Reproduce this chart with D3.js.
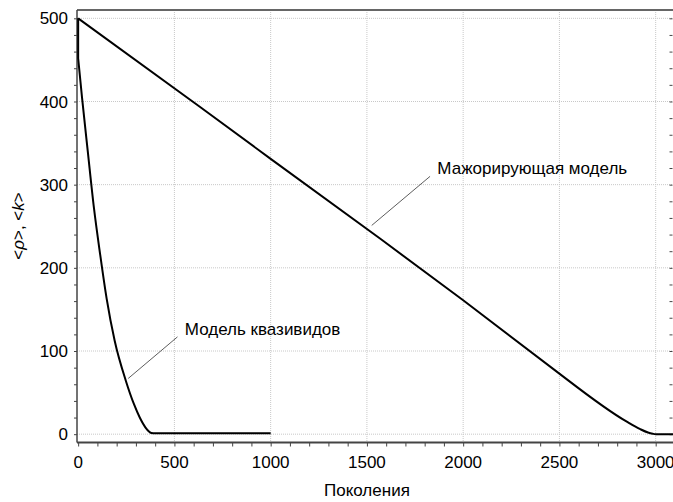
<!DOCTYPE html>
<html>
<head>
<meta charset="utf-8">
<script src="https://cdn.jsdelivr.net/npm/d3@7"></script>
<style>
  body { margin: 0; background: #fff; }
  svg { display: block; }
  text { font-family: "Liberation Sans", Arial, sans-serif; fill: #000; }
</style>
</head>
<body>
<svg id="chart" width="673" height="502"></svg>
<script>
// ---- data ----
const xTicks = [0, 500, 1000, 1500, 2000, 2500, 3000];
const yTicks = [0, 100, 200, 300, 400, 500];
const xLabel = "Поколения";
const majorGen = [0, 630, 1000, 1575, 2000, 2544, 2850, 2920, 2960, 2985, 3000, 3090];
const majorVal = [500, 394, 331, 234, 161, 65, 15, 6, 2, 0.5, 0, 0];
const quasiGen = [0, 0, 20, 50, 82, 115, 148, 190, 248, 290, 320, 350, 380, 400, 1000];
const quasiVal = [500, 452, 405, 340, 272, 215, 163, 112, 64, 36, 20, 8, 1.5, 1, 1];
const labelMajor = "Мажорирующая модель";
const labelQuasi = "Модель квазивидов";

// ---- layout ----
const svg = d3.select("#chart");
const L = 77, R = 673, T = 10, B = 442.5;
const FS = 17;
const x = d3.scaleLinear().domain([-6, 3090]).range([L, R]);
const y = d3.scaleLinear().domain([-10, 510]).range([B, T]);

// gridlines
const grid = svg.append("g");
grid.selectAll("line.v").data(xTicks.filter(d => d > 0)).join("line")
  .attr("x1", d => x(d)).attr("x2", d => x(d)).attr("y1", T).attr("y2", B)
  .attr("stroke", "#c8c8c8").attr("stroke-width", 1).attr("stroke-dasharray", "1,1");
grid.selectAll("line.h").data(yTicks).join("line")
  .attr("x1", L).attr("x2", R).attr("y1", d => y(d)).attr("y2", d => y(d))
  .attr("stroke", "#c8c8c8").attr("stroke-width", 1).attr("stroke-dasharray", "1,1");

// axes
const axColor = "#444";
const xAxis = d3.axisBottom(x).tickValues(d3.range(0, 3001, 100)).tickSize(4).tickFormat("");
const gx = svg.append("g").attr("transform", `translate(0,${B})`).call(xAxis);
gx.select(".domain").remove();
gx.selectAll("line").attr("stroke", axColor);
svg.append("g").selectAll("text").data(xTicks).join("text")
  .attr("x", d => x(d)).attr("y", B + 25).attr("text-anchor", "middle")
  .attr("font-size", FS).text(d => d);

const yAxis = d3.axisLeft(y).tickValues(d3.range(0, 501, 20)).tickSize(3).tickFormat("");
const gy = svg.append("g").attr("transform", `translate(${L},0)`).call(yAxis);
gy.select(".domain").remove();
gy.selectAll("line").attr("stroke", axColor);
svg.append("g").selectAll("text").data(yTicks).join("text")
  .attr("x", L - 9).attr("y", d => y(d)).attr("dy", "0.36em").attr("text-anchor", "end")
  .attr("font-size", FS).text(d => d);

const yAxisR = d3.axisLeft(y).tickValues(d3.range(0, 501, 20)).tickSize(3).tickFormat("");
const gyr = svg.append("g").attr("transform", `translate(${R - 0.5},0)`).call(yAxisR);
gyr.select(".domain").remove();
gyr.selectAll("line").attr("stroke", axColor);

// frame lines
svg.append("line").attr("x1", L).attr("x2", R).attr("y1", T).attr("y2", T)
  .attr("stroke", "#666").attr("stroke-width", 2);
svg.append("line").attr("x1", L).attr("x2", R).attr("y1", B).attr("y2", B)
  .attr("stroke", "#444").attr("stroke-width", 2);
svg.append("line").attr("x1", L).attr("x2", L).attr("y1", T).attr("y2", B)
  .attr("stroke", "#444").attr("stroke-width", 1.5);

// series
const line = d3.line().x(d => x(d[0])).y(d => y(d[1])).curve(d3.curveMonotoneX);
const lineLin = d3.line().x(d => x(d[0])).y(d => y(d[1]));
const major = majorGen.map((g, i) => [g, majorVal[i]]);
const quasi = quasiGen.map((g, i) => [g, quasiVal[i]]);
svg.append("path").attr("d", lineLin(major.slice(0, 6)) + line(major.slice(5)).replace(/^M/, "L"))
  .attr("fill", "none").attr("stroke", "#000").attr("stroke-width", 2);
svg.append("path").attr("d", lineLin(quasi.slice(0, 2)) + line(quasi.slice(1)).replace(/^M/, "L"))
  .attr("fill", "none").attr("stroke", "#000").attr("stroke-width", 2);

// annotations
function annot(txt, tx, ty, lx1, ly1, lx2, ly2) {
  svg.append("line").attr("x1", x(lx1)).attr("y1", y(ly1)).attr("x2", x(lx2)).attr("y2", y(ly2))
    .attr("stroke", "#333").attr("stroke-width", 0.8);
  svg.append("text").attr("x", x(tx)).attr("y", y(ty)).attr("font-size", FS).text(txt);
}
annot(labelMajor, 1866, 313, 1828, 310, 1525, 251);
annot(labelQuasi, 554, 119, 516, 117, 260, 67);

// axis titles
svg.append("text").attr("x", x(1500)).attr("y", 496).attr("text-anchor", "middle")
  .attr("font-size", FS).text(xLabel);
const yt = svg.append("text").attr("transform", "translate(24,226) rotate(-90)")
  .attr("text-anchor", "middle").attr("font-size", FS);
yt.append("tspan").text("<");
yt.append("tspan").attr("font-style", "italic").text("ρ");
yt.append("tspan").text(">, <");
yt.append("tspan").attr("font-style", "italic").text("k");
yt.append("tspan").text(">");
</script>
</body>
</html>
